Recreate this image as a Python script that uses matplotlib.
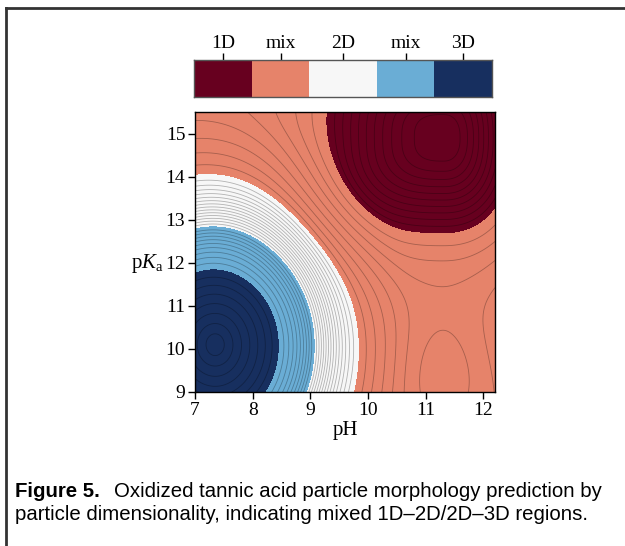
import numpy as np
import matplotlib
matplotlib.use('Agg')
import matplotlib.pyplot as plt
from matplotlib.lines import Line2D

plt.rcParams['font.family'] = 'Liberation Serif'
plt.rcParams['mathtext.fontset'] = 'custom'
plt.rcParams['mathtext.rm'] = 'Liberation Serif'
plt.rcParams['mathtext.it'] = 'Liberation Serif:italic'

# axes
ph_lim = (7, 12.2)
pka_lim = (9, 15.5)
ph_ticks = [7, 8, 9, 10, 11, 12]
pka_ticks = [9, 10, 11, 12, 13, 14, 15]

# classes (low score -> high score)
classes = ['1D', 'mix', '2D', 'mix', '3D']
class_colors = ['#67001f', '#e6836a', '#f7f7f7', '#6aadd5', '#172f5f']
cbar_spacing = [58, 57, 68, 57, 58]      # relative width of each colorbar cell
lines_per_class = [10, 8, 14, 9, 7]      # iso-lines drawn inside each region

# score model
blue_center = (7.35, 10.1)   # 3D peak
blue_aspect = 1.6            # pKa stretch of the rings
blue_edges = [2.5, 1.72, 1.1]            # ring radius where 2D / mix / 3D start
blue_shape = [5.64, 16.9, 1.85, 0.5, 3.4, 0.15]
red_center = (11.3, 14.9)    # 1D well
red_reach = (2.05, 1.21, 2.22)           # to the left, to the right, downwards
red_round = (2.8, 2.4)                   # squareness left / right
red_depth = 15.8
dip_center = (11.3, 9.3)     # small well bottom right
dip_scale = (0.8, 1.6)
dip_depth = 2.6
ridge_center = (12.9, 10.6)  # rise beyond right edge
ridge_scale = (0.8, 1.6)
ridge_height = 1.8

x = np.linspace(ph_lim[0], ph_lim[1], 500)
y = np.linspace(pka_lim[0], pka_lim[1], 500)
X, Y = np.meshgrid(x, y)


def blue_profile(r):
    a, b, c, w, c2, w2 = blue_shape
    flat = r - w2 * np.log1p(np.exp((r - c2) / w2))
    return a * (c2 - flat) + b * w * (1 - np.tanh((r - c) / w))


def bump(center, scale):
    u = (X - center[0]) / scale[0]
    v = (Y - center[1]) / scale[1]
    return np.exp(-(u ** 2 + v ** 2))


def well(center, reach, roundness):
    dx = X - center[0]
    dy = Y - center[1]
    left = dx < 0
    u = np.abs(dx) / np.where(left, reach[0], reach[1])
    v = np.abs(dy) / reach[2]
    p = np.where(left, roundness[0], roundness[1])
    r = (u ** p + v ** p) ** (1.0 / p)
    return np.exp(-r ** 2)


r_blue = np.sqrt((X - blue_center[0]) ** 2 + ((Y - blue_center[1]) / blue_aspect) ** 2)
Z = (blue_profile(r_blue)
     - red_depth * well(red_center, red_reach, red_round)
     - dip_depth * bump(dip_center, dip_scale)
     + ridge_height * bump(ridge_center, ridge_scale))

bounds = [Z.min() - 1e-6, -red_depth * np.exp(-1)]
bounds += [blue_profile(r) for r in blue_edges]
bounds.append(Z.max() + 1e-6)

fig = plt.figure(figsize=(6.25, 5.46), dpi=100)
ax = fig.add_axes([195 / 625, 1 - 392 / 546, 300 / 625, 280 / 546])

ax.contourf(X, Y, Z, levels=bounds, colors=class_colors)
line_levels = []
for i in range(len(classes)):
    line_levels += list(np.linspace(bounds[i], bounds[i + 1], lines_per_class[i] + 2)[1:-1])
ax.contour(X, Y, Z, levels=sorted(line_levels), colors='k', linewidths=0.6,
           alpha=0.28, linestyles='solid')

ax.set_xlim(ph_lim)
ax.set_ylim(pka_lim)
ax.set_xticks(ph_ticks)
ax.set_yticks(pka_ticks)
ax.tick_params(labelsize=14, length=5, width=1, pad=2)
for s in ax.spines.values():
    s.set_linewidth(1)
ax.set_xlabel('pH', fontsize=15, labelpad=2)
ax.set_ylabel(r'p$K$$_{\rm a}$', fontsize=15, rotation=0, ha='right', va='center')
ax.yaxis.set_label_coords(-0.105, 0.46)

# colorbar
cax = fig.add_axes([194 / 625, 1 - 97 / 546, 298 / 625, 37 / 546])
edges = np.cumsum([0] + cbar_spacing)
for i, c in enumerate(class_colors):
    cax.axvspan(edges[i], edges[i + 1], color=c, lw=0)
cax.set_xlim(edges[0], edges[-1])
cax.set_ylim(0, 1)
cax.set_yticks([])
cax.xaxis.tick_top()
cax.set_xticks((edges[:-1] + edges[1:]) / 2, classes)
cax.tick_params(axis='x', labelsize=14, length=5, width=1, pad=1)
for s in cax.spines.values():
    s.set_linewidth(1)
    s.set_color('#555555')

# page frame
fig.add_artist(Line2D([6 / 625, 6 / 625], [0, 1 - 8 / 546], transform=fig.transFigure,
                      color='#333333', lw=2))
fig.add_artist(Line2D([6 / 625, 1], [1 - 8 / 546, 1 - 8 / 546], transform=fig.transFigure,
                      color='#333333', lw=2))

# caption
cap1 = fig.text(15 / 625, 1 - 497 / 546, 'Figure 5.', family='Liberation Sans',
                fontweight='bold', fontsize=14.7, va='baseline')
fig.canvas.draw()
bb = cap1.get_window_extent()
fig.text((bb.x1 + 14) / 625, 1 - 497 / 546,
         'Oxidized tannic acid particle morphology prediction by',
         family='Liberation Sans', fontsize=14.7, va='baseline')
fig.text(15 / 625, 1 - 520 / 546,
         'particle dimensionality, indicating mixed 1D\u20132D/2D\u20133D regions.',
         family='Liberation Sans', fontsize=14.7, va='baseline')

fig.savefig('out.png', dpi=100)
